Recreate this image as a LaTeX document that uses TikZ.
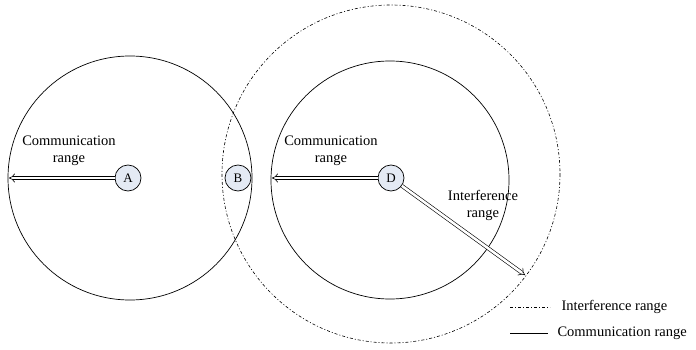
\documentclass[tikz,border=0pt]{standalone}
\usepackage{fontspec}
\setmainfont{Liberation Serif}
\usetikzlibrary{arrows.meta}
\definecolor{nodefill}{RGB}{228,234,244}

\tikzset{
  station/.style={circle, draw=black, fill=nodefill, line width=0.7pt, minimum size=26pt, inner sep=0pt, font=\fontsize{13}{13}\selectfont},
  rangearrow/.style={draw=black, double=white, double distance=2.6pt, line width=0.6pt, -{Implies[length=6pt]}},
  commrange/.style={draw=black, line width=0.7pt},
  intrange/.style={draw=black, line width=0.6pt, dash pattern=on 3pt off 2pt on 1pt off 2pt},
  label/.style={align=center, font=\fontsize{14.5}{17}\selectfont}
}

\begin{document}
\begin{tikzpicture}[x=1pt,y=-1pt]
\useasboundingbox (0,0) rectangle (696,350);

% ranges
\draw [commrange] (130,178) circle (122);
\draw [commrange] (390,180) circle (119);
\draw [intrange] (391,174) circle (169);

% stations
\node [station] (A) at (128,178) {A};
\node [station] (B) at (238,178) {B};
\node [station] (D) at (391,178) {D};

\coordinate (Aend) at (9,178);
\coordinate (Dend) at (272,178);
\coordinate (Iend) at (525,275);

\draw [rangearrow] (A) -- (Aend);
\draw [rangearrow] (D) -- (Dend);
\draw [rangearrow] (D) -- (Iend);

\node [label] (Alab) at (69,151) {Communication\\range};
\node [label] (Dlab) at (331,151) {Communication\\range};
\node [label] (Ilab) at (483,205) {Interference\\range};

% legend
\coordinate (L1a) at (510,307);
\coordinate (L1b) at (550,307);
\coordinate (L2a) at (510,333);
\coordinate (L2b) at (548,333);
\draw [intrange] (L1a) -- (L1b);
\draw [commrange] (L2a) -- (L2b);
\node [label, anchor=west] (Ileg) at (558,307) {Interference range};
\node [label, anchor=west] (Cleg) at (554,333) {Communication range};
\end{tikzpicture}
\end{document}
